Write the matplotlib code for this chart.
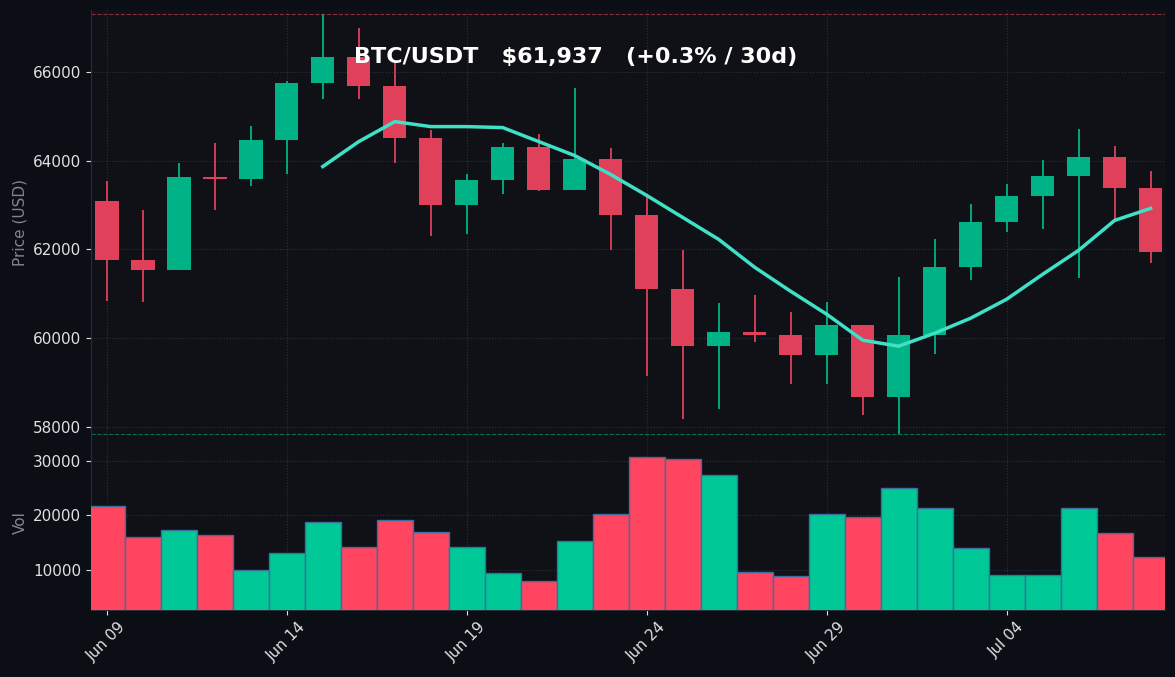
import matplotlib
matplotlib.use("Agg")
import matplotlib.pyplot as plt
import numpy as np
import pandas as pd

dates = pd.date_range("2024-06-09", periods=30, freq="D")
opens = [63100,61753,61528,63640,63595,64472,65753,66337,65685,64517,62989,63573,64315,63326,64045,62764,61101,59820,60135,60068,59618,60293,58675,60068,61596,62607,63191,63663,64090,63393]
closes = [61753,61528,63640,63595,64472,65753,66337,65685,64517,62989,63573,64315,63326,64045,62764,61101,59820,60135,60068,59618,60293,58675,60068,61596,62607,63191,63663,64090,63393,61937]
highs = [63550,62877,63955,64405,64787,65800,67303,66990,66270,64697,63686,64405,64607,65640,64292,63236,61978,60787,60967,60585,60810,60293,61371,62225,63011,63483,64023,64719,64337,63775]
lows = [60832,60810,61528,62877,63438,63708,65393,65393,63955,62292,62337,63236,63304,63326,61978,59147,58180,58405,59910,58966,58966,58270,57843,59640,61304,62382,62450,61349,62652,61686]
ma7 = [np.nan]*6 + [63865,64427,64877,64764,64764,64742,64427,64112,63686,63214,62719,62225,61596,61056,60540,59955,59820,60112,60450,60877,61438,61978,62652,62922]
volumes = [21700,16050,17340,16420,10000,13120,18810,14220,19170,16970,14220,9450,7980,15320,20270,30730,30370,27430,9630,8900,20270,19720,25050,21380,14040,9080,9080,21380,16790,12390]

W, H = 1175, 677
fig = plt.figure(figsize=(W/100, H/100), dpi=100, facecolor="#0b0e14")
L, R = 91/W, 1165/W
axp = fig.add_axes([L, 1-435/H, R-L, (435-10)/H])
axv = fig.add_axes([L, 1-610/H, R-L, (610-435)/H], sharex=axp)
x = np.arange(len(dates))
up_c, dn_c = "#00b386", "#e0405a"
vup, vdn = "#00c896", "#ff4560"
for ax in (axp, axv):
    ax.set_facecolor("#0f1116")
    for k in ("top", "right"):
        ax.spines[k].set_visible(False)
    for k in ("left", "bottom"):
        ax.spines[k].set_color("#2a2f3a")
    ax.grid(True, color="#2c313b", linestyle=":", linewidth=0.8)
    ax.tick_params(colors="#e0e0e0", labelsize=11)
for i in x:
    up = closes[i] >= opens[i]
    c = up_c if up else dn_c
    axp.vlines(i, lows[i], highs[i], color=c, linewidth=1.3, zorder=2)
    lo, hi = min(opens[i], closes[i]), max(opens[i], closes[i])
    axp.bar(i, max(hi-lo, 40), bottom=lo, width=0.65, color=c, zorder=3)
    axv.bar(i, volumes[i], width=1.0, color=vup if up else vdn, edgecolor="#3a6fa0", linewidth=1, zorder=3)
axp.plot(x, ma7, color="#40e0c8", linewidth=2.5, zorder=4)
axp.axhline(max(highs), color="#e0405a", linestyle="--", linewidth=0.8, alpha=0.6)
axp.axhline(min(lows), color="#00b386", linestyle="--", linewidth=0.8, alpha=0.6)
axp.set_ylim(57820, 67390)
axp.set_yticks([58000, 60000, 62000, 64000, 66000])
axp.set_ylabel("Price (USD)", color="#808590", fontsize=11)
axv.set_ylim(2660, 34770)
axv.set_yticks([10000, 20000, 30000])
axv.set_ylabel("Vol", color="#808590", fontsize=11)
axp.set_xlim(-0.44, 29.4)
ticks = list(range(0, 30, 5))
axv.set_xticks(ticks)
axv.set_xticklabels([dates[t].strftime("%b %d") for t in ticks], rotation=45)
plt.setp(axp.get_xticklabels(), visible=False)
axp.tick_params(axis="x", length=0)
axp.spines["bottom"].set_visible(False)
fig.text(576/W, 1-57/H, "BTC/USDT   $61,937   (+0.3% / 30d)", color="white", fontsize=16, fontweight="bold", ha="center", va="center")
fig.savefig("out.png", dpi=100, facecolor=fig.get_facecolor())
